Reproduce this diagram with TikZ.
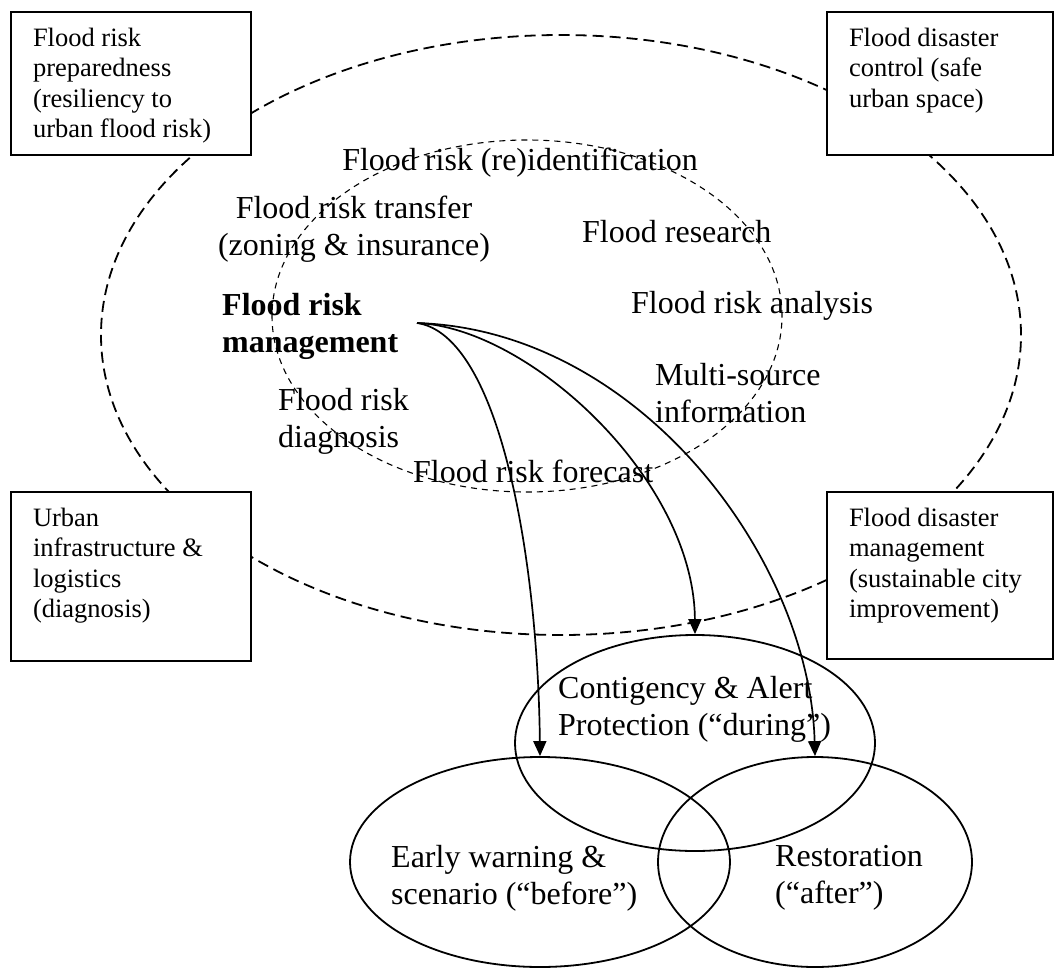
\documentclass[tikz,border=0pt]{standalone}
\usepackage{fontspec}
\setmainfont{Liberation Serif}
\usetikzlibrary{shapes.geometric,arrows.meta}

\tikzset{
  box/.style={draw, fill=white, line width=2pt, anchor=north west,
    inner xsep=22pt, inner ysep=16pt, font=\fontsize{26.5}{30.5}\selectfont},
  txt/.style={inner sep=0pt, font=\fontsize{32}{37}\selectfont},
  ring/.style={draw, ellipse, line width=1.8pt, inner sep=0pt},
  flow/.style={line width=1.7pt, -{Triangle[length=15pt,width=13pt]}}
}

\begin{document}
\begin{tikzpicture}[x=1pt,y=-1pt]
   \useasboundingbox (0,0) rectangle (1058,969);
   % outer and inner dashed rings
   \draw[line width=1.8pt, dash pattern=on 11pt off 6pt] (561,335) ellipse [x radius=460pt, y radius=300pt];
   \draw[line width=1.1pt, dash pattern=on 6pt off 5pt] (527,316) ellipse [x radius=255pt, y radius=176pt];

   \node[box] (prep) at (10,11) {\parbox[t][111pt][t]{196pt}{\raggedright Flood risk\\ preparedness\\ (resiliency to\\ urban flood risk)}};
   \node[box] (control) at (826,11) {\parbox[t][111pt][t]{182pt}{\raggedright Flood disaster\\ control (safe\\ urban space)}};
   \node[box] (infra) at (10,491) {\parbox[t][137pt][t]{196pt}{\raggedright Urban\\ infrastructure \&\\ logistics\\ (diagnosis)}};
   \node[box] (manage) at (826,491) {\parbox[t][135pt][t]{182pt}{\raggedright Flood disaster\\ management\\ (sustainable city\\ improvement)}};

   \node[txt, anchor=base] (reident) at (520,170) {Flood risk (re)identification};
   \node[txt, anchor=north, align=center] (transfer) at (354,196) {Flood risk transfer\\(zoning \& insurance)};
   \node[txt, anchor=base west] (research) at (582,242) {Flood research};
   \node[txt, anchor=north west, align=left, font=\fontsize{32}{37}\selectfont\bfseries] (frm) at (222,293) {Flood risk\\management};
   \node[txt, anchor=base west] (analysis) at (631,313) {Flood risk analysis};
   \node[txt, anchor=north west, align=left] (multi) at (655,363) {Multi-source\\information};
   \node[txt, anchor=north west, align=left] (diag) at (278,388) {Flood risk\\diagnosis};
   \node[txt, anchor=base west] (forecast) at (413,482) {Flood risk forecast};

   \node[ring, minimum width=360pt, minimum height=216pt] (alert) at (695,743) {};
   \node[ring, minimum width=380pt, minimum height=210pt] (warn) at (540,862) {};
   \node[ring, minimum width=314pt, minimum height=210pt] (restore) at (815,862) {};
   \node[txt, anchor=north west, align=left] (alerttxt) at (558,676) {Contigency \& Alert\\Protection (``during'')};
   \node[txt, anchor=north west, align=left] (warntxt) at (391,845) {Early warning \&\\scenario (``before'')};
   \node[txt, anchor=north west, align=left] (restoretxt) at (775,845) {Restoration\\(``after'')};

   \coordinate (src) at (417,323);
   \draw[flow] (src) .. controls (500,335) and (538,560) .. (warn.north);
   \draw[flow] (src) .. controls (530,328) and (694,480) .. (alert.north);
   \draw[flow] (src) .. controls (640,330) and (810,560) .. (restore.north);
\end{tikzpicture}
\end{document}
